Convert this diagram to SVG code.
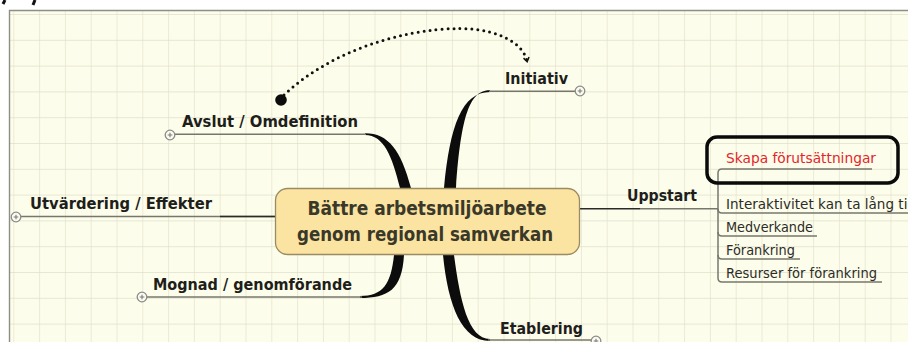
<svg xmlns="http://www.w3.org/2000/svg" width="908" height="342" viewBox="0 0 908 342">
  <defs>
    <pattern id="grid" x="13.3" y="14" width="25.8" height="25.8" patternUnits="userSpaceOnUse">
      <path d="M0,0 V25.8 M0,0 H25.8" fill="none" stroke="#e0e0cc" stroke-width="1.3"/>
    </pattern>
    <marker id="arrowOpen" viewBox="0 0 10 10" refX="6" refY="5" markerWidth="7" markerHeight="7" orient="auto" markerUnits="userSpaceOnUse">
      <path d="M1,1 L7,5 L1,9" fill="none" stroke="#111" stroke-width="2.2" stroke-linejoin="miter"/>
    </marker>
    <g id="expander">
      <circle r="4.8" fill="#fbfbf4" stroke="#8c8c84" stroke-width="1.3"/>
      <path d="M-2.3,0 H2.3 M0,-2.3 V2.3" stroke="#7c7c74" stroke-width="1.1"/>
    </g>
  </defs>
  <style>
    .topic { font-family: "DejaVu Sans", Verdana, sans-serif; font-weight: bold; font-size: 15.5px; fill: #1e1e1a; }
    .sub { font-family: "DejaVu Sans", Verdana, sans-serif; font-size: 13.5px; fill: #2c2c28; }
    .central { font-family: "DejaVu Sans", Verdana, sans-serif; font-weight: bold; font-size: 19.5px; fill: #3a3828; }
    .underline { fill: none; stroke: #77776e; stroke-width: 1.5; }
    .strong { fill: none; stroke: #2a2a26; stroke-width: 1.6; }
    .branch { fill: #0c0c0c; }
  </style>

  <!-- page and canvas -->
  <rect x="0" y="0" width="908" height="342" fill="#ffffff"/>
  <rect x="9" y="10" width="899" height="332" fill="#fdfdeb"/>
  <rect x="9" y="10" width="899" height="332" fill="url(#grid)"/>
  <path d="M9.5,342 V10.5 H908" fill="none" stroke="#8e8e88" stroke-width="1.4"/>
  <path d="M3,4 L5,0 M33,5 L35,0" stroke="#111" stroke-width="3"/>

  <!-- connectors -->
  <g id="connectors">
    <!-- Avslut / Omdefinition -->
    <path class="branch" d="M365,133.2 C388,133 401,150 411,188 L400,188 C392,156 384,135.2 365,135 Z"/>
    <path class="underline" d="M175,134.2 H366"/>
    <!-- Initiativ -->
    <path class="branch" d="M490,90.2 C470,90 461,115 456,188 L444,188 C450,125 462,92 490,92 Z"/>
    <path class="underline" d="M489,91.2 H575.5"/>
    <!-- Utvärdering / Effekter -->
    <path class="underline" d="M20.5,216.5 H275"/>
    <path class="strong" d="M220,216.5 H275"/>
    <!-- Mognad / genomförande -->
    <path class="branch" d="M404,255 C402,290 388,298 360,298 L360,296 C383,296 391,284 394,255 Z"/>
    <path class="underline" d="M146.5,297 H362"/>
    <!-- Etablering -->
    <path class="branch" d="M443,255 C448,306 462,341 490,341 L490,339 C468,339 460,300 454,255 Z"/>
    <path class="underline" d="M488,340 H591.5"/>
    <!-- Uppstart -->
    <path class="strong" d="M580,208.8 H640"/>
    <path class="underline" d="M640,208.8 H718"/>
    <path class="underline" d="M872,169 H722 Q718,169 718,173 V278 Q718,282 722,282 H882"/>
    <path class="underline" d="M718,209 Q718,213 722,213 H908"/>
    <path class="underline" d="M718,232 Q718,236 722,236 H817"/>
    <path class="underline" d="M718,255 Q718,259 722,259 H800"/>
    <!-- relation: Avslut / Omdefinition to Initiativ -->
    <circle cx="281" cy="100" r="5.8" fill="#0c0c0c"/>
    <path d="M284,95 C340,42 430,23 480,30 C508,35 524,47 527,61" fill="none" stroke="#111" stroke-width="3" stroke-linecap="round" stroke-dasharray="0 6" marker-end="url(#arrowOpen)"/>
  </g>

  <!-- central topic -->
  <g id="central">
    <rect x="275.5" y="188.5" width="304" height="66" rx="12" fill="#fbe3a1" stroke="#9a8c62" stroke-width="1.3"/>
    <text class="central" x="427" y="215" text-anchor="middle" textLength="239" lengthAdjust="spacingAndGlyphs">Bättre arbetsmiljöarbete</text>
    <text class="central" x="425" y="241" text-anchor="middle" textLength="256" lengthAdjust="spacingAndGlyphs">genom regional samverkan</text>
  </g>

  <g id="initiativ">
    <text class="topic" x="505" y="84" textLength="63" lengthAdjust="spacingAndGlyphs">Initiativ</text>
    <use href="#expander" x="580" y="91"/>
  </g>

  <g id="avslut">
    <text class="topic" x="182" y="127" textLength="176" lengthAdjust="spacingAndGlyphs">Avslut / Omdefinition</text>
    <use href="#expander" x="170" y="135"/>
  </g>

  <g id="utvardering">
    <text class="topic" x="30" y="209" textLength="182" lengthAdjust="spacingAndGlyphs">Utvärdering / Effekter</text>
    <use href="#expander" x="16" y="217"/>
  </g>

  <g id="mognad">
    <text class="topic" x="153" y="290" textLength="199" lengthAdjust="spacingAndGlyphs">Mognad / genomförande</text>
    <use href="#expander" x="142" y="297"/>
  </g>

  <g id="etablering">
    <text class="topic" x="500" y="334" textLength="83" lengthAdjust="spacingAndGlyphs">Etablering</text>
    <use href="#expander" x="596" y="341"/>
  </g>

  <g id="uppstart">
    <text class="topic" x="627" y="201" textLength="70" lengthAdjust="spacingAndGlyphs">Uppstart</text>
  </g>

  <g id="skapa">
    <text class="sub" x="726" y="163" style="fill:#e3262c" textLength="150" lengthAdjust="spacingAndGlyphs">Skapa förutsättningar</text>
    <rect x="707" y="137" width="191" height="46" rx="10" fill="none" stroke="#0a0a0a" stroke-width="3.5"/>
  </g>

  <g id="interaktivitet">
    <text class="sub" x="726" y="208.5" textLength="190" lengthAdjust="spacingAndGlyphs">Interaktivitet kan ta lång tid</text>
  </g>

  <g id="medverkande">
    <text class="sub" x="726" y="231.5" textLength="87" lengthAdjust="spacingAndGlyphs">Medverkande</text>
  </g>

  <g id="forankring">
    <text class="sub" x="726" y="254.5" textLength="69" lengthAdjust="spacingAndGlyphs">Förankring</text>
  </g>

  <g id="resurser">
    <text class="sub" x="726" y="277.5" textLength="151" lengthAdjust="spacingAndGlyphs">Resurser för förankring</text>
  </g>
</svg>
